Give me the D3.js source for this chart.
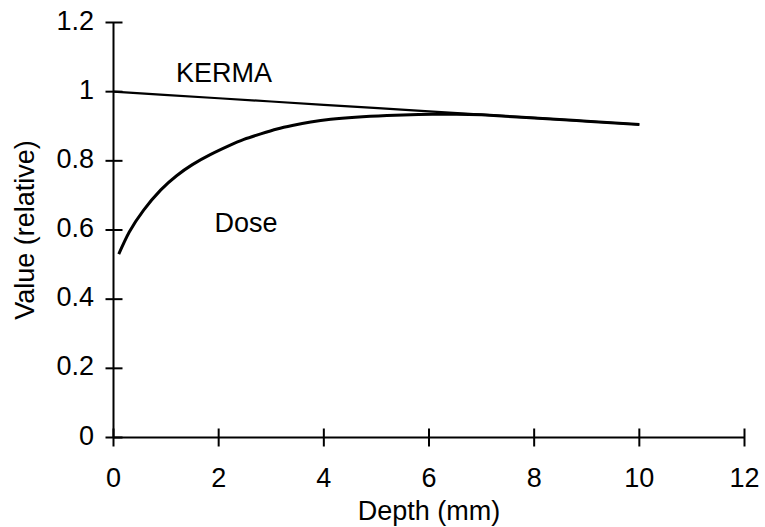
<!DOCTYPE html>
<html>
<head>
<meta charset="utf-8">
<script src="https://cdn.jsdelivr.net/npm/d3@7/dist/d3.min.js"></script>
<style>
  body { margin: 0; background: #fff; }
  text { font-family: "Liberation Sans", Arial, sans-serif; fill: #000; }
</style>
</head>
<body>
<div id="chart"></div>
<script>
// datos
const depthKerma = [0, 2, 4, 6, 8, 10]
const kermaValues = [1.0, 0.981, 0.962, 0.943, 0.924, 0.905]

const depthDose = [0.1, 0.3, 0.57, 0.9, 1.2, 1.5, 1.84, 2.2, 2.48, 2.8, 3.11, 3.4, 3.75, 4.13, 4.6, 5.2, 5.8, 6.5, 7, 8, 9, 10]
const doseValues = [0.53, 0.594, 0.657, 0.716, 0.757, 0.789, 0.818, 0.844, 0.862, 0.878, 0.892, 0.902, 0.912, 0.92, 0.926, 0.931, 0.934, 0.935, 0.933, 0.924, 0.9145, 0.905]

const xTicks = [0, 2, 4, 6, 8, 10, 12]
const yTicks = [0, 0.2, 0.4, 0.6, 0.8, 1, 1.2]

const width = 765
const height = 527
const fontSize = 27

const svg = d3.select("#chart")
  .append("svg")
  .attr("width", width)
  .attr("height", height)

// Escalas
const x = d3.scaleLinear().domain([0, 12]).range([113.5, 744.5])
const y = d3.scaleLinear().domain([0, 1.2]).range([437.5, 22.5])

// ejes
const xAxis = svg.append("g")
xAxis.append("line")
  .attr("x1", x(0)).attr("x2", x(12))
  .attr("y1", y(0)).attr("y2", y(0))
  .attr("stroke", "#000").attr("stroke-width", 2)
xAxis.selectAll(".tick").data(xTicks).enter()
  .append("line")
  .attr("x1", d => x(d)).attr("x2", d => x(d))
  .attr("y1", y(0) - 9).attr("y2", y(0) + 9)
  .attr("stroke", "#000").attr("stroke-width", 2)
xAxis.selectAll("text").data(xTicks).enter()
  .append("text")
  .attr("x", d => x(d))
  .attr("y", 487)
  .attr("text-anchor", "middle")
  .style("font-size", fontSize + "px")
  .text(d => d)

const yAxis = svg.append("g")
yAxis.append("line")
  .attr("x1", x(0)).attr("x2", x(0))
  .attr("y1", y(0)).attr("y2", y(1.2))
  .attr("stroke", "#000").attr("stroke-width", 2)
yAxis.selectAll(".tick").data(yTicks).enter()
  .append("line")
  .attr("x1", x(0) - 8).attr("x2", x(0) + 9)
  .attr("y1", d => y(d)).attr("y2", d => y(d))
  .attr("stroke", "#000").attr("stroke-width", 2)
yAxis.selectAll("text").data(yTicks).enter()
  .append("text")
  .attr("x", 94)
  .attr("y", d => y(d) + 7)
  .attr("text-anchor", "end")
  .style("font-size", fontSize + "px")
  .text(d => d)

// titulos
svg.append("text")
  .attr("x", x(6))
  .attr("y", 520)
  .attr("text-anchor", "middle")
  .style("font-size", fontSize + "px")
  .text("Depth (mm)")

svg.append("text")
  .attr("transform", `translate(34, ${(y(0) + y(1.2)) / 2}) rotate(-90)`)
  .attr("text-anchor", "middle")
  .style("font-size", fontSize + "px")
  .text("Value (relative)")

// curvas
const line = d3.line()
  .x(d => x(d[0]))
  .y(d => y(d[1]))
  .curve(d3.curveNatural)

svg.append("path")
  .datum(depthKerma.map((d, i) => [d, kermaValues[i]]))
  .attr("d", line)
  .attr("fill", "none")
  .attr("stroke", "#000")
  .attr("stroke-width", 2.2)

svg.append("path")
  .datum(depthDose.map((d, i) => [d, doseValues[i]]))
  .attr("d", line)
  .attr("fill", "none")
  .attr("stroke", "#000")
  .attr("stroke-width", 3)

// etiquetas
svg.append("text")
  .attr("x", 176)
  .attr("y", 82)
  .style("font-size", fontSize + "px")
  .text("KERMA")

svg.append("text")
  .attr("x", 214.5)
  .attr("y", 232)
  .style("font-size", fontSize + "px")
  .text("Dose")
</script>
</body>
</html>
